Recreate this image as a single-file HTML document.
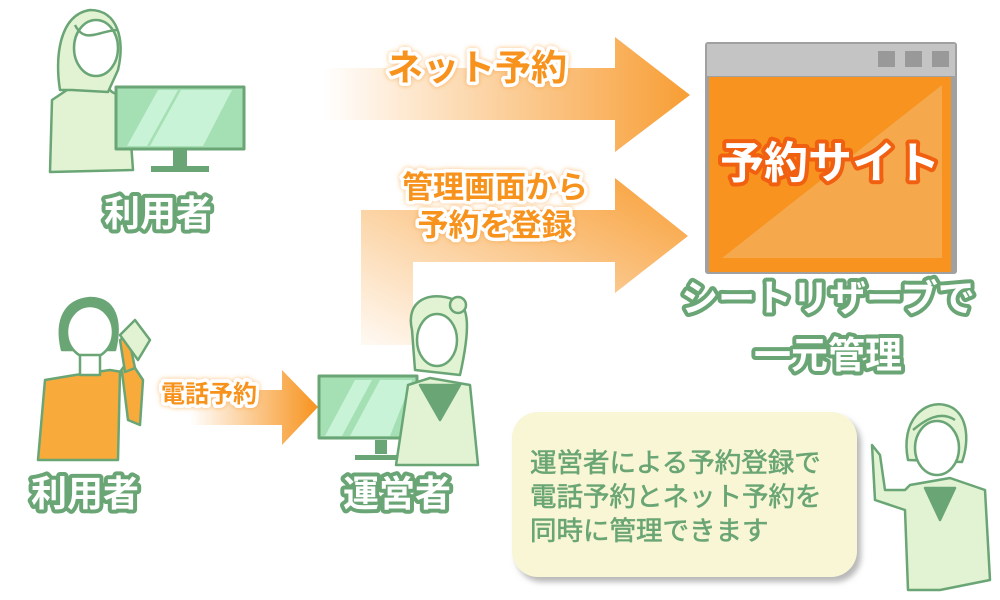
<!DOCTYPE html>
<html><head><meta charset="utf-8"><style>
html,body{margin:0;padding:0;background:#fff}
svg{display:block}
text{font-family:"Liberation Sans","Noto Sans CJK JP",sans-serif;font-weight:bold}
.g{fill:#fff;stroke:#6aa575;stroke-width:8;paint-order:stroke;stroke-linejoin:round}
.o{fill:#f7931e;stroke:#fff;stroke-width:7;paint-order:stroke;stroke-linejoin:round;filter:url(#glow)}
</style></head><body>
<svg width="1000" height="600" viewBox="0 0 1000 600">
<defs>
<linearGradient id="a1" x1="0" x2="1"><stop offset="0" stop-color="#f7931e" stop-opacity="0"/><stop offset="1" stop-color="#f7931e" stop-opacity="0.9"/></linearGradient>
<linearGradient id="a2" x1="0" x2="1" y1="1" y2="0"><stop offset="0" stop-color="#f7931e" stop-opacity="0.05"/><stop offset="1" stop-color="#f7931e" stop-opacity="0.9"/></linearGradient>
<linearGradient id="a3" x1="0" x2="1"><stop offset="0" stop-color="#f7931e" stop-opacity="0"/><stop offset="1" stop-color="#f7931e"/></linearGradient>
<filter id="glow" x="-20%" y="-30%" width="140%" height="160%"><feDropShadow dx="0" dy="0" stdDeviation="2.5" flood-color="#f7931e" flood-opacity="0.6"/></filter>
<filter id="sh" x="-10%" y="-10%" width="130%" height="130%"><feDropShadow dx="4" dy="5" stdDeviation="3" flood-color="#999" flood-opacity="0.7"/></filter>
</defs>
<!-- arrows -->
<path d="M323 68H615V37L690 95L615 152V120H323Z" fill="url(#a1)"/>
<path d="M361 345V210H615V178L688 236L615 293V262H413V345Z" fill="url(#a2)"/>
<path d="M190 390H282V370L318 407L282 445V425H190Z" fill="url(#a3)"/>
<!-- site window -->
<rect x="705" y="42" width="252" height="232" rx="3" fill="#a0a0a0"/>
<rect x="707" y="44" width="248" height="32" fill="#c4c4c4"/>
<rect x="878" y="51" width="17" height="16" fill="#999"/><rect x="905" y="51" width="17" height="16" fill="#999"/><rect x="932" y="51" width="17" height="16" fill="#999"/>
<rect x="709" y="77" width="242" height="195" fill="#f7931e"/>
<path d="M722 258L942 85V258Z" fill="#f5a84c"/>
<text x="830" y="178" font-size="44" text-anchor="middle" style="fill:#fff;stroke:#f06010;stroke-width:8;paint-order:stroke;stroke-linejoin:round">予約サイト</text>
<text x="828" y="311" font-size="37" text-anchor="middle" class="g">シートリザーブで</text>
<text x="828" y="368" font-size="37" text-anchor="middle" class="g">一元管理</text>
<!-- orange labels -->
<text x="477" y="80" font-size="36" text-anchor="middle" class="o">ネット予約</text>
<text x="495" y="198" font-size="31" text-anchor="middle" class="o">管理画面から</text>
<text x="495" y="236" font-size="31" text-anchor="middle" class="o">予約を登録</text>
<text x="209" y="402" font-size="24" text-anchor="middle" class="o">電話予約</text>
<!-- user 1 -->
<g stroke="#6aa575" stroke-width="2.5" stroke-linejoin="round">
<path d="M50 172L52 100L70 88L85 80L100 80L112 92L128 100L133 170Z" fill="#e1f3d3"/>
<path d="M60 90C55 60 58 15 90 10C118 10 125 40 118 70L108 92L72 90Z" fill="#e1f3d3"/>
<ellipse cx="96" cy="48" rx="22" ry="28" fill="#fff"/>
<path d="M75 25C85 45 100 30 118 30" fill="none"/>
<rect x="116" y="87" width="128" height="62" fill="#a5dfb4" stroke-width="3"/>
<path d="M127 146L158 90H178L147 146Z M150 146L181 90H232L203 146Z" fill="#c9f3d7" stroke="none"/>
<rect x="173" y="150" width="14" height="17" fill="#6aa575" stroke="none"/>
<rect x="151" y="166" width="58" height="6" fill="#6aa575" stroke="none"/>
</g>
<text x="158" y="226" font-size="36" text-anchor="middle" class="g">利用者</text>
<!-- user 2 orange -->
<g stroke="#6aa575" stroke-width="2.5" stroke-linejoin="round">
<path d="M38 460L45 380L75 375L110 370L122 372L128 420L140 425L143 380L135 368L125 365L120 372L118 460Z" fill="#f8ab3b"/>
<path d="M125 372L120 340L128 335L135 368Z" fill="#f8ab3b"/>
<path d="M62 350C55 320 65 300 90 298C115 298 122 320 115 350Z" fill="#6aa575"/>
<ellipse cx="90" cy="332" rx="23" ry="26" fill="#fff"/>
<path d="M80 375L80 355L100 355L100 375Z" fill="#fff"/>
<path d="M120 335L135 320L150 340L138 360Z" fill="#e1f3d3"/>
</g>
<text x="85" y="506" font-size="36" text-anchor="middle" class="g">利用者</text>
<!-- operator -->
<g stroke="#6aa575" stroke-width="2.5" stroke-linejoin="round">
<rect x="319" y="376" width="98" height="62" fill="#a5dfb4" stroke-width="3"/>
<path d="M325 436L355 380H372L342 436Z M350 436L380 380H412L390 436Z" fill="#c9f3d7" stroke="none"/>
<rect x="375" y="440" width="12" height="14" fill="#6aa575" stroke="none"/>
<rect x="355" y="455" width="45" height="5" fill="#6aa575" stroke="none"/>
<path d="M396 465L408 385L430 378L470 385L478 465Z" fill="#e1f3d3"/>
<path d="M420 385L440 420L460 385Z" fill="#6aa575"/>
<path d="M412 330C405 300 430 290 455 300C470 305 470 330 460 375L415 370Z" fill="#e1f3d3"/>
<ellipse cx="437" cy="340" rx="20" ry="26" fill="#fff"/>
<circle cx="458" cy="305" r="8" fill="#e1f3d3"/>
</g>
<text x="397" y="506" font-size="36" text-anchor="middle" class="g">運営者</text>
<!-- bubble -->
<rect x="512" y="412" width="345" height="165" rx="26" fill="#f8f6d4" filter="url(#sh)"/>
<g font-size="26.5" fill="#6aa575" stroke="#6aa575" stroke-width="0.6">
<text x="530" y="472" style="font-weight:normal">運営者による予約登録で</text>
<text x="530" y="506" style="font-weight:normal">電話予約とネット予約を</text>
<text x="530" y="540" style="font-weight:normal">同時に管理できます</text>
</g>
<!-- right person -->
<g stroke="#6aa575" stroke-width="2.5" stroke-linejoin="round">
<path d="M875 500L872 445L880 455L885 490L905 490L910 485L950 478L985 490L990 580L940 590L908 590L905 510Z" fill="#e1f3d3"/>
<path d="M925 488L940 520L955 488Z" fill="#6aa575"/>
<path d="M908 460C900 420 925 400 945 405C968 410 970 440 962 462Z" fill="#e1f3d3"/>
<ellipse cx="937" cy="448" rx="22" ry="27" fill="#fff"/>
<path d="M913 430C925 420 940 410 955 420" fill="none"/>
</g>
</svg>
</body></html>
